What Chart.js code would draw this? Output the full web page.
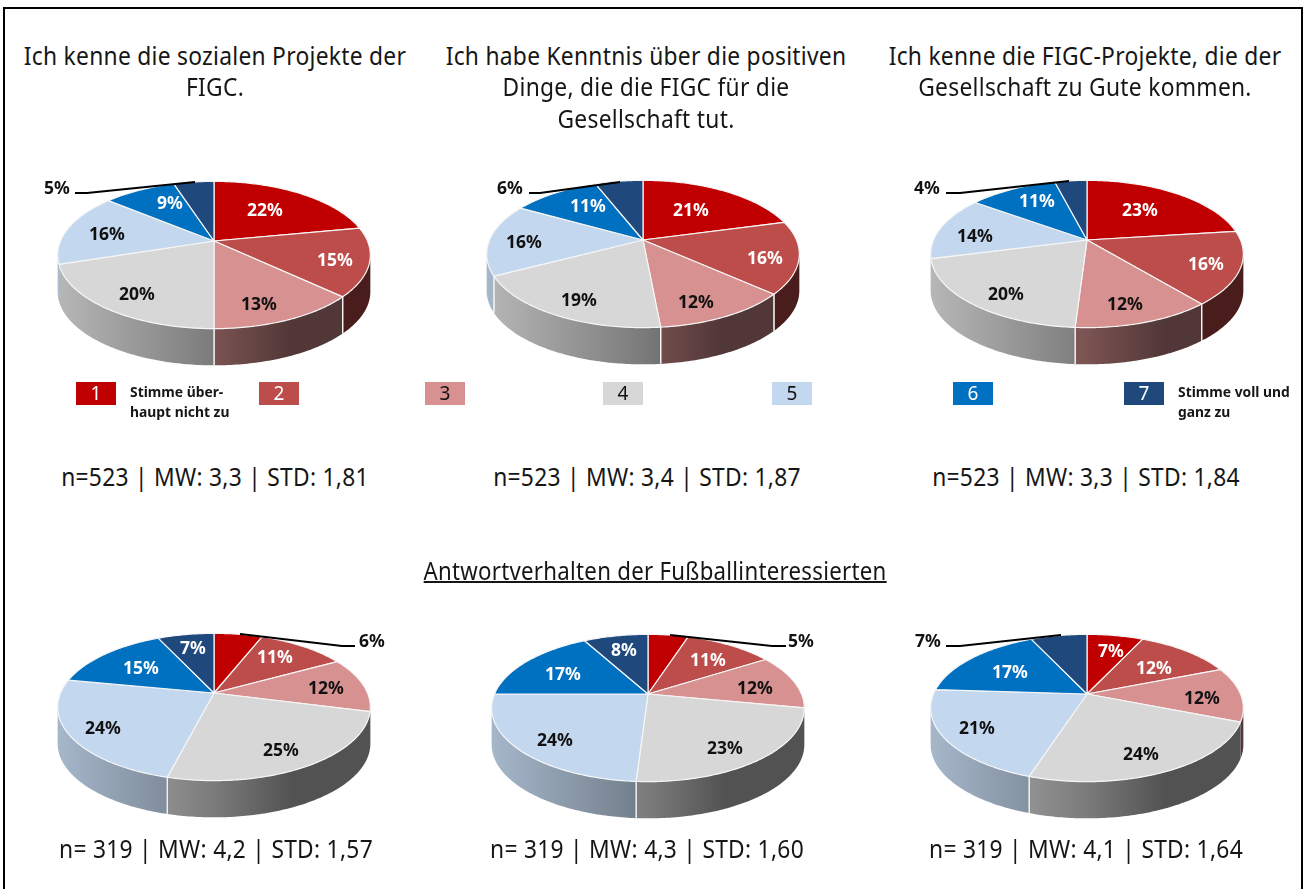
<!DOCTYPE html>
<html lang="de">
<head>
<meta charset="utf-8">
<title>FIGC Projekte</title>
<script src="https://cdn.jsdelivr.net/npm/chart.js@4/dist/chart.umd.js"></script>
<style>
  html, body { margin: 0; padding: 0; background: #fff; }
  body { position: relative; width: 1306px; height: 889px; overflow: hidden; font-family: "Noto Sans", sans-serif; color: #161616; }
  #frame { position: absolute; left: 3px; top: 7px; width: 1296px; height: 890px; border: 2px solid #000; }
  canvas { position: absolute; }
  .text { position: absolute; white-space: nowrap; text-align: center; transform: translateX(-50%) scaleX(0.912); letter-spacing: 0.3px; font-size: 25px; }
  .title { line-height: 31.5px; }
  .stats { line-height: 30px; }
  .heading { line-height: 30px; text-decoration: underline; text-decoration-thickness: 1.5px; transform: translateX(-50%) scaleX(0.89); }
  .key { position: absolute; width: 40px; height: 23px; top: 382px; text-align: center; font-size: 19px; line-height: 23px; }
  .note { position: absolute; font-weight: 700; font-size: 14.5px; line-height: 20px; white-space: nowrap; transform: scaleX(0.955); transform-origin: left center; }
</style>
</head>
<body>
<div id="frame"></div>
<script>
const categories = ["1", "2", "3", "4", "5", "6", "7"];

// Antwortanteile in Prozent, oben alle Befragten, unten die Fussballinteressierten
const sozialeProjekte = [22, 15, 13, 20, 16, 9, 5];
const positiveDinge = [21, 16, 12, 19, 16, 11, 6];
const figcProjekte = [23, 16, 12, 20, 14, 11, 4];
const sozialeProjekteFans = [6, 11, 12, 25, 24, 15, 7];
const positiveDingeFans = [5, 11, 12, 23, 24, 17, 8];
const figcProjekteFans = [7, 12, 12, 24, 21, 17, 7];

const sliceColors = ["#c00000", "#bd4d4a", "#d69190", "#d7d7d7", "#c3d7ee", "#0070c0", "#1f497d"];
const labelColors = ["#fff", "#fff", "#111", "#111", "#111", "#fff", "#fff"];

const titles = [
  ["Ich kenne die sozialen Projekte der", "FIGC."],
  ["Ich habe Kenntnis über die positiven", "Dinge, die die FIGC für die", "Gesellschaft tut."],
  ["Ich kenne die FIGC-Projekte, die der", "Gesellschaft zu Gute kommen."]
];
const titleCentres = [215, 646, 1085];
const statLines = [
  "n=523 | MW: 3,3 | STD: 1,81", "n=523 | MW: 3,4 | STD: 1,87", "n=523 | MW: 3,3 | STD: 1,84",
  "n= 319 | MW: 4,2 | STD: 1,57", "n= 319 | MW: 4,3 | STD: 1,60", "n= 319 | MW: 4,1 | STD: 1,64"
];
const statCentres = [214.5, 646.5, 1085.5, 215.5, 647, 1085.5];

// pie layout: apex on the page, label centres and the leader line of the one outside label
const panels = [
  { values: sozialeProjekte, apex: [214, 241],
    labels: [[265, 210], [335, 260], [259, 304], [137, 294], [107, 234], [170, 203], [57, 188]],
    leader: [[75, 193], [87, 193], [195, 182]] },
  { values: positiveDinge, apex: [643, 240],
    labels: [[691, 210], [765, 258], [696, 302], [579, 300], [524, 242], [588, 206], [510, 188]],
    leader: [[529, 193], [540, 193], [620, 182]] },
  { values: figcProjekte, apex: [1087, 240],
    labels: [[1140, 210], [1206, 264], [1125, 304], [1006, 294], [975, 236], [1037, 201], [927, 188]],
    leader: [[946, 193], [960, 193], [1069, 181]] },
  { values: sozialeProjekteFans, apex: [214, 693],
    labels: [[372, 641], [275, 657], [326, 688], [281, 750], [103, 728], [141, 668], [193, 648]],
    leader: [[240, 634], [342, 646], [355, 646]] },
  { values: positiveDingeFans, apex: [648, 694],
    labels: [[801, 641], [708, 660], [755, 688], [725, 748], [555, 740], [563, 674], [624, 650]],
    leader: [[670, 635], [772, 646], [786, 646]] },
  { values: figcProjekteFans, apex: [1087, 694],
    labels: [[1111, 651], [1154, 668], [1202, 698], [1141, 754], [977, 728], [1010, 672], [928, 641]],
    leader: [[946, 646], [960, 646], [1061, 635]] }
];

const RADIUS = 153.5;
const TILT = 0.4625;
const PERSPECTIVE = 0.19;
const DEPTH = 36.7;
const CANVAS_W = 400;
const CANVAS_H = 320;
// brightness of the pie wall from its left to its right side
const wallLight = [[0, 0.85], [0.5, 0.57], [0.75, 0.38], [1, 0.38]];

function shade(hex, f) {
  const n = parseInt(hex.slice(1), 16);
  return `rgb(${Math.round((n >> 16) * f)},${Math.round(((n >> 8) & 255) * f)},${Math.round((n & 255) * f)})`;
}

// slice with a tilted perspective look: the circle maps to an ellipse whose centre
// sits below the apex, and the front of the rim gets a wall
class Arc3D extends Chart.ArcElement {
  static id = "arc3d";

  point(a) {
    const w = 1 - PERSPECTIVE * Math.sin(a);
    return [this.x + this.outerRadius * Math.cos(a) / w, this.y + this.outerRadius * TILT * Math.sin(a) / w];
  }

  rim(ctx, from, to, dy) {
    const steps = Math.max(2, Math.ceil(Math.abs(to - from) / 0.015));
    for (let i = 0; i <= steps; i++) {
      const p = this.point(from + (to - from) * i / steps);
      ctx.lineTo(p[0], p[1] + dy);
    }
  }

  drawWall(ctx, color) {
    const right = Math.asin(PERSPECTIVE);
    const left = Math.PI - right;
    const from = Math.max(this.startAngle, right);
    const to = Math.min(this.endAngle, left);
    if (from >= to) return;
    const span = this.outerRadius / Math.sqrt(1 - PERSPECTIVE * PERSPECTIVE);
    const grad = ctx.createLinearGradient(this.x - span, 0, this.x + span, 0);
    wallLight.forEach(([t, f]) => grad.addColorStop(t, shade(color, f)));
    ctx.beginPath();
    this.rim(ctx, from, to, 0);
    this.rim(ctx, to, from, DEPTH);
    ctx.closePath();
    ctx.fillStyle = grad;
    ctx.fill();
    ctx.strokeStyle = "#f4f4f4";
    ctx.lineWidth = 1.3;
    [[from, this.startAngle], [to, this.endAngle]].forEach(([a, edge]) => {
      if (a !== edge) return;
      const p = this.point(a);
      // no seam right at the silhouette, it would only read as a pale stripe
      if (Math.abs(Math.abs(p[0] - this.x) - span) < 3) return;
      ctx.beginPath();
      ctx.moveTo(p[0], p[1]);
      ctx.lineTo(p[0], p[1] + DEPTH);
      ctx.stroke();
    });
  }

  draw(ctx) {
    const color = this.options.backgroundColor;
    ctx.save();
    this.drawWall(ctx, color);
    ctx.beginPath();
    ctx.moveTo(this.x, this.y);
    this.rim(ctx, this.startAngle, this.endAngle, 0);
    ctx.closePath();
    ctx.fillStyle = color;
    ctx.fill();
    ctx.lineJoin = "round";
    ctx.lineWidth = 1.2;
    ctx.strokeStyle = "#f6f6f6";
    ctx.stroke();
    ctx.restore();
  }
}

class Pie3DController extends Chart.PieController {
  static id = "pie3d";
  static defaults = { dataElementType: "arc3d" };
}

Chart.register(Arc3D, Pie3DController);

function percentLabels(panel, left, top) {
  return {
    id: "percentLabels",
    afterDatasetsDraw(chart) {
      const ctx = chart.ctx;
      ctx.save();
      ctx.strokeStyle = "#000";
      ctx.lineWidth = 1.8;
      ctx.beginPath();
      panel.leader.forEach(([x, y]) => ctx.lineTo(x - left, y - top));
      ctx.stroke();
      // the value whose label sits beside the leader line is always dark
      const outside = nearestLabel(panel);
      ctx.font = "700 17.5px 'Noto Sans'";
      ctx.textAlign = "center";
      ctx.textBaseline = "middle";
      panel.values.forEach((v, i) => {
        ctx.fillStyle = i === outside ? "#111" : labelColors[i];
        ctx.fillText(v + "%", panel.labels[i][0] - left, panel.labels[i][1] - top + 1);
      });
      ctx.restore();
    }
  };
}

function nearestLabel(panel) {
  const end = panel.leader[0][0] < panel.apex[0] ? panel.leader[0] : panel.leader[panel.leader.length - 1];
  let best = 0, bestDist = Infinity;
  panel.labels.forEach(([x, y], i) => {
    const d = Math.hypot(x - end[0], y - end[1]);
    if (d < bestDist) { bestDist = d; best = i; }
  });
  return best;
}

panels.forEach(panel => {
  const canvas = document.createElement("canvas");
  const left = panel.apex[0] - CANVAS_W / 2;
  const top = panel.apex[1] - CANVAS_H / 2;
  canvas.width = CANVAS_W;
  canvas.height = CANVAS_H;
  canvas.style.left = left + "px";
  canvas.style.top = top + "px";
  document.body.appendChild(canvas);

  new Chart(canvas, {
    type: "pie3d",
    data: {
      labels: categories,
      datasets: [{ data: panel.values, backgroundColor: sliceColors, radius: RADIUS, borderWidth: 0 }]
    },
    options: {
      responsive: false,
      animation: false,
      events: [],
      devicePixelRatio: 1,
      plugins: { legend: { display: false }, tooltip: { enabled: false } }
    },
    plugins: [percentLabels(panel, left, top)]
  });
});

function addText(cls, text, x, y) {
  const el = document.createElement("div");
  el.className = "text " + cls;
  el.textContent = text;
  el.style.left = x + "px";
  el.style.top = y + "px";
  document.body.appendChild(el);
  return el;
}

titles.forEach((lines, col) => {
  lines.forEach((line, row) => addText("title", line, titleCentres[col], 39.5 + row * 31.5));
});

statLines.forEach((line, i) => {
  addText("stats", line, statCentres[i], i < 3 ? 461 : 833);
});

addText("heading", "Antwortverhalten der Fußballinteressierten", 654.5, 555);

// legend row
const keyLefts = [76, 259, 425, 603, 772, 953, 1124];
categories.forEach((name, i) => {
  const key = document.createElement("div");
  key.className = "key";
  key.textContent = name;
  key.style.left = keyLefts[i] + "px";
  key.style.background = sliceColors[i];
  key.style.color = labelColors[i];
  document.body.appendChild(key);
});

[["Stimme über-", 130, 381], ["haupt nicht zu", 130, 401], ["Stimme voll und", 1178, 381], ["ganz zu", 1178, 401]].forEach(([text, x, y]) => {
  const note = document.createElement("div");
  note.className = "note";
  note.textContent = text;
  note.style.left = x + "px";
  note.style.top = y + "px";
  document.body.appendChild(note);
});
</script>
</body>
</html>
